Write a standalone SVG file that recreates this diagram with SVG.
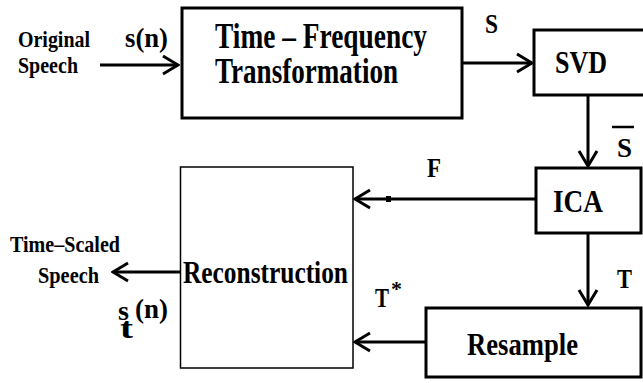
<svg xmlns="http://www.w3.org/2000/svg" width="643" height="383" viewBox="0 0 643 383">
<defs>
<style>
.box{fill:#fff;stroke:#000;stroke-width:3}
.thin{fill:#fff;stroke:#000;stroke-width:1.5}
.ln{stroke:#000;stroke-width:3;fill:none}
</style>
<marker id="ah" viewBox="-18 -12 20 24" markerUnits="userSpaceOnUse" markerWidth="20" markerHeight="24" refX="0" refY="0" orient="auto">
<path d="M-15,-9 L0,0 L-15,9" fill="none" stroke="#000" stroke-width="3"/>
</marker>
</defs>
<rect width="643" height="383" fill="#fff"/>
<g id="connectors">
<line class="ln" x1="100" y1="65" x2="178" y2="65" marker-end="url(#ah)"/>
<line class="ln" x1="463" y1="63" x2="532" y2="63" marker-end="url(#ah)"/>
<line class="ln" x1="588" y1="95" x2="588" y2="166" marker-end="url(#ah)"/>
<line class="ln" x1="535" y1="199" x2="355" y2="199" marker-end="url(#ah)"/>
<rect x="386" y="196" width="5" height="6" fill="#000"/>
<line class="ln" x1="588" y1="234" x2="588" y2="305" marker-end="url(#ah)"/>
<line class="ln" x1="425" y1="342" x2="355" y2="342" marker-end="url(#ah)"/>
<line class="ln" x1="180" y1="272" x2="113" y2="272" marker-end="url(#ah)"/>
</g>
<g font-family="Liberation Serif, Times New Roman, serif" font-weight="bold" fill="#000">
<g id="input">
<text font-size="23" x="18" y="47" textLength="72" lengthAdjust="spacingAndGlyphs">Original</text>
<text font-size="23" x="18" y="73" textLength="60" lengthAdjust="spacingAndGlyphs">Speech</text>
<text font-size="28" x="125" y="47" textLength="43" lengthAdjust="spacingAndGlyphs">s(n)</text>
</g>
<g id="tf">
<rect class="box" x="182" y="8" width="280" height="110"/>
<text font-size="35" x="215" y="48" textLength="212" lengthAdjust="spacingAndGlyphs">Time – Frequency</text>
<text font-size="35" x="215" y="83" textLength="183" lengthAdjust="spacingAndGlyphs">Transformation</text>
</g>
<g id="svd">
<rect class="box" x="534" y="30" width="115" height="65"/>
<text font-size="31" x="555" y="73" textLength="52" lengthAdjust="spacingAndGlyphs">SVD</text>
</g>
<g id="ica">
<rect class="box" x="536" y="168" width="105" height="65"/>
<text font-size="31" x="553" y="212" textLength="50" lengthAdjust="spacingAndGlyphs">ICA</text>
</g>
<g id="resample">
<rect class="box" x="426" y="308" width="215" height="69"/>
<text font-size="31" x="467" y="355" textLength="111" lengthAdjust="spacingAndGlyphs">Resample</text>
</g>
<g id="reconstruction">
<rect class="thin" x="180.5" y="167" width="172.5" height="201"/>
<text font-size="31" x="183" y="283" textLength="165" lengthAdjust="spacingAndGlyphs">Reconstruction</text>
</g>
<g id="labels">
<text font-size="28" x="485" y="33" textLength="13" lengthAdjust="spacingAndGlyphs">S</text>
<text font-size="28" x="617" y="157" textLength="15" lengthAdjust="spacingAndGlyphs">S</text>
<line x1="612" y1="127" x2="634" y2="127" stroke="#000" stroke-width="2.5"/>
<text font-size="28" x="427" y="177" textLength="14" lengthAdjust="spacingAndGlyphs">F</text>
<text font-size="28" x="617" y="288" textLength="15" lengthAdjust="spacingAndGlyphs">T</text>
<text font-size="28" x="375" y="307" textLength="14" lengthAdjust="spacingAndGlyphs">T</text>
<text font-size="22" x="391" y="296">*</text>
</g>
<g id="output">
<text font-size="23" x="10" y="252" textLength="110" lengthAdjust="spacingAndGlyphs">Time–Scaled</text>
<text font-size="23" x="38" y="283" textLength="61" lengthAdjust="spacingAndGlyphs">Speech</text>
<text font-size="28" x="118" y="320" textLength="11" lengthAdjust="spacingAndGlyphs">s</text>
<text font-size="30" x="120" y="338" textLength="13" lengthAdjust="spacingAndGlyphs">t</text>
<text font-size="28" x="135" y="318" textLength="33" lengthAdjust="spacingAndGlyphs">(n)</text>
</g>
</g>
</svg>
